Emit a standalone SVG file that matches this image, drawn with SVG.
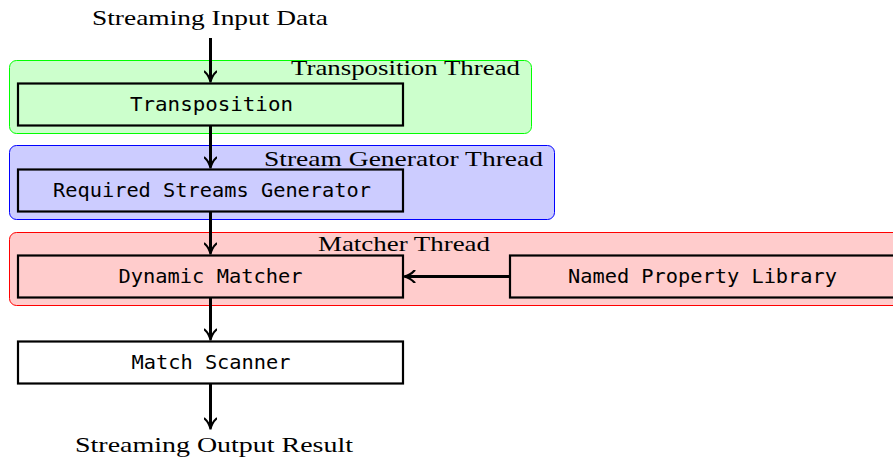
<svg xmlns="http://www.w3.org/2000/svg" width="893" height="462" viewBox="0 0 893 462">
<defs>
<style>
.lbl{font-family:"Liberation Serif","DejaVu Serif",serif;font-size:22px;fill:#000}
.mono{font-family:"DejaVu Sans Mono","Liberation Mono",monospace;font-size:20px;fill:#000}
.box{stroke:#000;stroke-width:2.2}
.conn{stroke:#000;stroke-width:3;fill:none;marker-end:url(#ah)}
</style>
<marker id="ah" viewBox="0 0 10 10" refX="8" refY="5" markerWidth="4.5" markerHeight="4.5" orient="auto" markerUnits="strokeWidth">
<path d="M1,0.5 Q4,4 9,5 Q4,6 1,9.5" fill="none" stroke="#000" stroke-width="1.6" stroke-linecap="round"/>
</marker>
</defs>
<rect width="893" height="462" fill="#fff"/>
<g id="transposition-thread">
<rect x="9.5" y="60.5" width="522" height="73" rx="7" fill="#ccffcc" stroke="#00ff00" stroke-width="1"/>
<text class="lbl" x="291" y="75" textLength="229" lengthAdjust="spacingAndGlyphs">Transposition Thread</text>
</g>
<g id="stream-generator-thread">
<rect x="9.5" y="145.5" width="545" height="74" rx="7" fill="#ccccff" stroke="#0000ff" stroke-width="1"/>
<text class="lbl" x="264" y="166" textLength="279" lengthAdjust="spacingAndGlyphs">Stream Generator Thread</text>
</g>
<g id="matcher-thread">
<rect x="9.5" y="232.5" width="900" height="73" rx="7" fill="#ffcccc" stroke="#ff0000" stroke-width="1"/>
<text class="lbl" x="318" y="251" textLength="172" lengthAdjust="spacingAndGlyphs">Matcher Thread</text>
</g>
<g id="input-label"><text class="lbl" x="92" y="25" textLength="236" lengthAdjust="spacingAndGlyphs">Streaming Input Data</text></g>
<g id="output-label"><text class="lbl" x="75" y="452" textLength="278" lengthAdjust="spacingAndGlyphs">Streaming Output Result</text></g>
<g id="transposition">
<rect class="box" x="18" y="83.5" width="385" height="42" fill="#ccffcc"/>
<text class="mono" x="130" y="110.5" textLength="163" lengthAdjust="spacingAndGlyphs">Transposition</text>
</g>
<g id="required-streams-generator">
<rect class="box" x="18" y="169.5" width="385" height="42" fill="#ccccff"/>
<text class="mono" x="53" y="196.5" textLength="318" lengthAdjust="spacingAndGlyphs">Required Streams Generator</text>
</g>
<g id="dynamic-matcher">
<rect class="box" x="18" y="255.5" width="385" height="42" fill="#ffcccc"/>
<text class="mono" x="118.5" y="282.5" textLength="184" lengthAdjust="spacingAndGlyphs">Dynamic Matcher</text>
</g>
<g id="named-property-library">
<rect class="box" x="510" y="255.5" width="400" height="42" fill="#ffcccc"/>
<text class="mono" x="568" y="282.5" textLength="269" lengthAdjust="spacingAndGlyphs">Named Property Library</text>
</g>
<g id="match-scanner">
<rect class="box" x="18" y="341.5" width="385" height="42" fill="#fff"/>
<text class="mono" x="131.5" y="368.5" textLength="159" lengthAdjust="spacingAndGlyphs">Match Scanner</text>
</g>
<g id="connectors">
<line class="conn" x1="210.5" y1="38" x2="210.5" y2="81"/>
<line class="conn" x1="210.5" y1="126" x2="210.5" y2="167"/>
<line class="conn" x1="210.5" y1="212" x2="210.5" y2="253"/>
<line class="conn" x1="210.5" y1="298" x2="210.5" y2="339"/>
<line class="conn" x1="210.5" y1="384" x2="210.5" y2="428"/>
<line class="conn" x1="509" y1="276.5" x2="405" y2="276.5"/>
</g>
</svg>
